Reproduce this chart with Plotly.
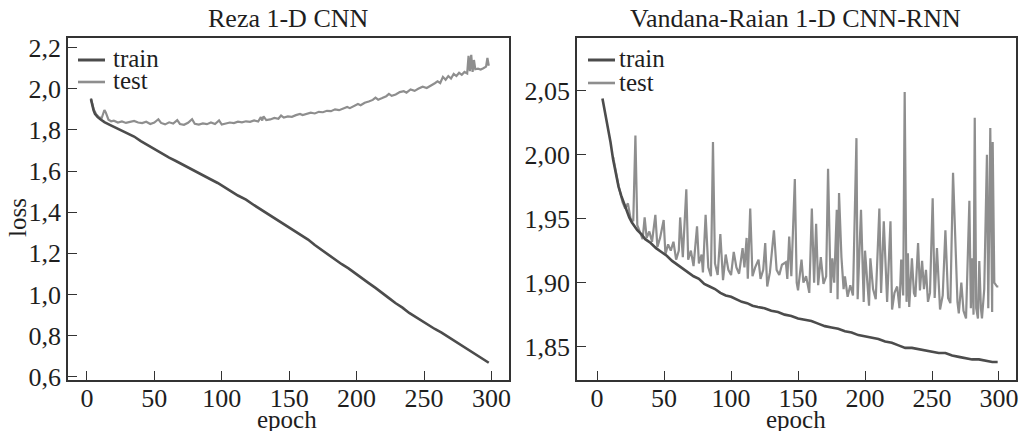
import plotly.graph_objects as go

# ---------------- Data: Reza 1-D CNN ----------------
reza_train_epoch = [3, 4, 5, 6, 8, 10, 13, 17, 22, 26, 30, 35, 40, 45, 51, 56, 61, 66, 72, 77,
                    82, 87, 92, 97, 102, 107, 112, 118, 124, 130, 137, 143, 148, 153, 159, 164,
                    169, 174, 179, 184, 189, 194, 199, 204, 209, 214, 219, 224, 229, 234, 239,
                    243, 248, 253, 258, 263, 268, 273, 278, 283, 288, 293, 298]
reza_train_loss = [1.950, 1.920, 1.895, 1.878, 1.862, 1.852, 1.838, 1.825, 1.810, 1.797, 1.785,
                   1.768, 1.746, 1.726, 1.703, 1.686, 1.665, 1.649, 1.629, 1.613, 1.594, 1.578,
                   1.559, 1.542, 1.520, 1.501, 1.481, 1.461, 1.434, 1.409, 1.377, 1.354, 1.330,
                   1.311, 1.288, 1.267, 1.240, 1.217, 1.191, 1.171, 1.147, 1.127, 1.102, 1.081,
                   1.055, 1.032, 1.005, 0.982, 0.957, 0.936, 0.910, 0.893, 0.871, 0.854, 0.832,
                   0.814, 0.793, 0.773, 0.750, 0.731, 0.709, 0.690, 0.668]

reza_test_epoch = [3, 5, 7, 9, 11, 13, 14, 16, 18, 20, 23, 26, 29, 32, 35, 38, 41, 44, 47, 50,
                   53, 55, 58, 61, 64, 67, 69, 72, 75, 78, 80, 83, 86, 89, 92, 95, 98, 100, 103,
                   106, 109, 112, 115, 118, 121, 124, 127, 129, 130, 131, 133, 136, 139, 142,
                   144, 146, 149, 152, 155, 158, 160, 163, 166, 169, 172, 175, 178, 181, 184,
                   187, 190, 193, 195, 198, 201, 203, 206, 209, 212, 214, 216, 219, 222, 224,
                   226, 229, 232, 235, 237, 240, 243, 246, 249, 252, 255, 258, 260, 262, 264,
                   266, 268, 270, 272, 274, 276, 278, 280, 282, 283, 284, 285, 286, 287, 288,
                   290, 292, 294, 296, 297, 298]
reza_test_loss = [1.954, 1.900, 1.875, 1.862, 1.858, 1.897, 1.885, 1.850, 1.842, 1.845, 1.836,
                  1.841, 1.834, 1.838, 1.844, 1.836, 1.833, 1.840, 1.829, 1.836, 1.852, 1.834,
                  1.827, 1.837, 1.831, 1.848, 1.829, 1.825, 1.835, 1.852, 1.830, 1.826, 1.832,
                  1.828, 1.836, 1.829, 1.846, 1.826, 1.831, 1.836, 1.833, 1.840, 1.837, 1.842,
                  1.839, 1.846, 1.841, 1.862, 1.846, 1.866, 1.848, 1.851, 1.858, 1.854, 1.870,
                  1.860, 1.866, 1.864, 1.872, 1.878, 1.872, 1.879, 1.884, 1.880, 1.888, 1.886,
                  1.893, 1.891, 1.900, 1.896, 1.905, 1.912, 1.906, 1.918, 1.926, 1.920, 1.932,
                  1.938, 1.946, 1.957, 1.947, 1.955, 1.964, 1.975, 1.966, 1.972, 1.984, 1.988,
                  1.981, 1.997, 1.990, 2.001, 2.010, 2.004, 2.014, 2.027, 2.036, 2.028, 2.058,
                  2.044, 2.062, 2.050, 2.072, 2.062, 2.078, 2.068, 2.082, 2.075, 2.160, 2.086,
                  2.165, 2.082, 2.140, 2.095, 2.098, 2.094, 2.100, 2.108, 2.150, 2.112]

# ---------------- Data: Vandana-Raian 1-D CNN-RNN ----------------
vr_train_epoch = [4, 6, 8, 10, 12, 14, 16, 18, 20, 22, 24, 26, 28, 30, 33, 36, 40, 44, 48, 52,
                  56, 60, 64, 68, 72, 76, 80, 84, 88, 92, 96, 100, 104, 108, 112, 116, 120, 125,
                  130, 135, 140, 145, 150, 155, 160, 165, 170, 175, 180, 185, 190, 195, 200, 205,
                  210, 215, 220, 225, 230, 235, 240, 245, 250, 255, 260, 265, 270, 275, 280, 285,
                  290, 295, 299]
vr_train_loss = [2.044, 2.033, 2.022, 2.010, 1.996, 1.984, 1.975, 1.968, 1.962, 1.957, 1.951,
                 1.947, 1.944, 1.941, 1.938, 1.934, 1.931, 1.927, 1.924, 1.921, 1.917, 1.914,
                 1.911, 1.908, 1.905, 1.903, 1.899, 1.897, 1.895, 1.892, 1.890, 1.889, 1.887,
                 1.885, 1.884, 1.882, 1.881, 1.880, 1.878, 1.877, 1.875, 1.874, 1.872, 1.871,
                 1.870, 1.868, 1.866, 1.865, 1.864, 1.862, 1.861, 1.859, 1.858, 1.857, 1.856,
                 1.854, 1.853, 1.851, 1.849, 1.849, 1.848, 1.847, 1.846, 1.845, 1.845, 1.843,
                 1.842, 1.841, 1.840, 1.840, 1.839, 1.838, 1.838]

vr_test_epoch = [12, 16, 19, 21, 23, 25, 27, 28.6, 30, 32, 34, 35.5, 37, 39, 41, 43.5, 45, 47,
                 49.7, 51, 53, 55, 57, 59, 61, 62, 64, 66.6, 68, 70, 72, 74.6, 76, 78, 79, 81, 83,
                 85, 86.5, 88, 90, 92, 94, 96, 98, 100, 102, 104, 106, 108.6, 110, 111.6, 112.5,
                 114.3, 116, 118, 120.5, 122, 124, 125.5, 127, 129, 132, 134, 136, 138, 140.9,
                 142, 143.4, 145, 147.6, 149, 150, 152.6, 154, 156, 158.4, 160.3, 162, 163.5, 165,
                 167, 169, 171, 172.4, 174.4, 175.6, 177, 178.9, 179.5, 180.6, 182.4, 184, 185,
                 187, 189, 191, 193.6, 194.5, 197, 199, 200, 202, 203, 204, 206, 208, 210.7, 212,
                 214, 216.5, 219, 220.2, 222, 224, 225.7, 227, 228.5, 229.6, 231, 232, 233, 235,
                 236.5, 237.6, 239.6, 241, 242.6, 244, 245.5, 247, 248.5, 250.5, 252, 253.7, 256,
                 258, 260, 262, 263.7, 265.7, 267.4, 269, 270, 271.9, 273.5, 275.4, 277.9, 279,
                 279.9, 281, 281.9, 283, 284.3, 285.3, 286.5, 287.3, 289, 291, 292, 293.5, 294.9,
                 295.3, 296.5, 298.5, 299.5]
vr_test_loss = [1.998, 1.976, 1.963, 1.958, 1.962, 1.950, 1.948, 2.015, 1.945, 1.940, 1.934,
                1.951, 1.935, 1.940, 1.932, 1.953, 1.928, 1.935, 1.949, 1.922, 1.930, 1.925,
                1.932, 1.918, 1.925, 1.951, 1.920, 1.973, 1.918, 1.925, 1.913, 1.944, 1.915,
                1.922, 1.908, 1.953, 1.912, 1.905, 2.010, 1.915, 1.906, 1.938, 1.902, 1.922,
                1.910, 1.906, 1.924, 1.912, 1.907, 1.927, 1.912, 1.935, 1.903, 1.958, 1.905,
                1.912, 1.918, 1.903, 1.910, 1.931, 1.897, 1.908, 1.941, 1.910, 1.906, 1.914,
                1.916, 1.903, 1.936, 1.905, 1.981, 1.900, 1.894, 1.918, 1.900, 1.905, 1.892,
                1.958, 1.900, 1.946, 1.898, 1.920, 1.899, 1.905, 1.989, 1.892, 1.919, 1.900,
                1.957, 1.887, 1.970, 1.920, 1.895, 1.905, 1.889, 1.898, 1.890, 2.013, 1.887,
                1.957, 1.885, 1.925, 1.895, 1.882, 1.919, 1.895, 1.887, 1.958, 1.892, 1.948,
                1.885, 1.948, 1.879, 1.892, 1.897, 1.880, 1.918, 1.890, 2.049, 1.885, 1.923,
                1.881, 1.919, 1.892, 1.889, 1.931, 1.894, 1.917, 1.895, 1.910, 1.885, 1.892,
                1.966, 1.888, 1.927, 1.879, 1.890, 1.941, 1.888, 1.884, 1.986, 1.939, 1.885,
                1.876, 1.900, 1.878, 1.872, 1.964, 1.880, 1.919, 1.875, 2.029, 1.880, 1.872,
                1.917, 1.880, 1.872, 1.895, 2.000, 1.880, 2.021, 1.877, 2.010, 1.900, 1.897,
                1.897]

titles = ["Reza 1-D CNN", "Vandana-Raian 1-D CNN-RNN"]
series_names = ["train", "test"]
x_title = "epoch"
y_title = "loss"

TRAIN_C = "#4c4c4c"
TEST_C = "#8e8e8e"
AX_C = "#333333"
TXT_C = "#1e1e1e"
FONT = "Liberation Serif"

fig = go.Figure()
# test drawn first so the train line sits on top where they overlap
fig.add_trace(go.Scatter(x=reza_test_epoch, y=reza_test_loss, name=series_names[1], mode="lines",
                         line=dict(color=TEST_C, width=2.2), xaxis="x", yaxis="y"))
fig.add_trace(go.Scatter(x=reza_train_epoch, y=reza_train_loss, name=series_names[0], mode="lines",
                         line=dict(color=TRAIN_C, width=2.6), xaxis="x", yaxis="y"))
fig.add_trace(go.Scatter(x=vr_test_epoch, y=vr_test_loss, name=series_names[1], mode="lines",
                         line=dict(color=TEST_C, width=2.2), xaxis="x2", yaxis="y2"))
fig.add_trace(go.Scatter(x=vr_train_epoch, y=vr_train_loss, name=series_names[0], mode="lines",
                         line=dict(color=TRAIN_C, width=2.6), xaxis="x2", yaxis="y2"))

W, H = 1019, 431
y_dom = [1 - 380 / H, 1 - 38 / H]

axis_common = dict(showline=True, linecolor=AX_C, linewidth=1.5, mirror=True,
                   ticks="inside", ticklen=9, tickwidth=1.3, tickcolor=AX_C,
                   showgrid=False, zeroline=False, automargin=False,
                   tickfont=dict(family=FONT, size=26, color=TXT_C))

# compact in-plot legends (sample line + label), one per panel
shapes = []
annotations = []
legend_specs = [(78, 105, 111, [60, 82]), (588, 615, 617, [60, 83])]
for (x0, x1, xt, rows) in legend_specs:
    for name, color, width, yy in zip(series_names, [TRAIN_C, TEST_C], [3, 2.6], rows):
        shapes.append(dict(type="line", xref="paper", yref="paper",
                           x0=x0 / W, x1=x1 / W, y0=1 - yy / H, y1=1 - yy / H,
                           line=dict(color=color, width=width)))
        annotations.append(dict(text=name, x=xt / W, y=1 - (yy - 1) / H, xref="paper",
                                yref="paper", showarrow=False, xanchor="left",
                                yanchor="middle",
                                font=dict(family=FONT, size=25, color=TXT_C)))

annotations += [
    dict(text=titles[0], x=288 / W, y=1 - 18 / H, xref="paper", yref="paper",
         showarrow=False, xanchor="center", yanchor="middle",
         font=dict(family=FONT, size=26, color=TXT_C)),
    dict(text=titles[1], x=795 / W, y=1 - 18 / H, xref="paper", yref="paper",
         showarrow=False, xanchor="center", yanchor="middle",
         font=dict(family=FONT, size=26, color=TXT_C)),
    dict(text=x_title, x=287 / W, y=1 - 419 / H, xref="paper", yref="paper",
         showarrow=False, xanchor="center", yanchor="middle",
         font=dict(family=FONT, size=25, color=TXT_C)),
    dict(text=x_title, x=796 / W, y=1 - 419 / H, xref="paper", yref="paper",
         showarrow=False, xanchor="center", yanchor="middle",
         font=dict(family=FONT, size=25, color=TXT_C)),
    dict(text=y_title, x=17 / W, y=1 - 218 / H, xref="paper", yref="paper",
         showarrow=False, xanchor="center", yanchor="middle", textangle=-90,
         font=dict(family=FONT, size=25, color=TXT_C)),
]

fig.update_layout(
    width=W, height=H, autosize=False,
    margin=dict(l=0, r=0, t=0, b=0, pad=0, autoexpand=False),
    paper_bgcolor="white", plot_bgcolor="white",
    separators=",.",
    showlegend=False,
    font=dict(family=FONT, size=24, color=TXT_C),
    xaxis=dict(domain=[68 / W, 509 / W], anchor="y", range=[-14, 313], dtick=50, tick0=0,
               ticklabelstandoff=-6, **axis_common),
    yaxis=dict(domain=y_dom, anchor="x", range=[0.584, 2.247], dtick=0.2, tick0=0,
               tickformat=".1f", **axis_common),
    xaxis2=dict(domain=[577 / W, 1016 / W], anchor="y2", range=[-15, 312.7], dtick=50, tick0=0,
                ticklabelstandoff=-6, **axis_common),
    yaxis2=dict(domain=y_dom, anchor="x2", range=[1.8239, 2.0913], dtick=0.05, tick0=0,
                tickformat=".2f", **axis_common),
    shapes=shapes,
    annotations=annotations,
)

fig.write_html("out.html", config=dict(displayModeBar=False, responsive=False),
               post_script="document.body.style.margin='0px';")
